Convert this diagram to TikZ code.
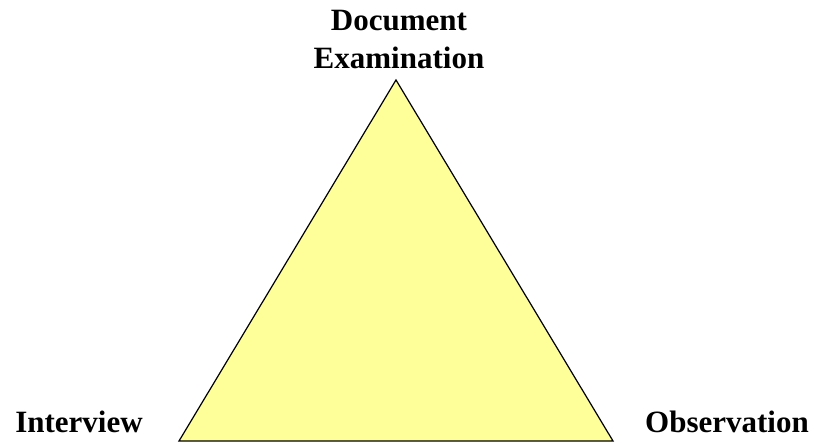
\documentclass[tikz,border=0pt]{standalone}
\usepackage{fontspec}
\setmainfont{Liberation Serif}
\usepackage{xcolor}
\definecolor{triyellow}{HTML}{FFFF99}
\usetikzlibrary{positioning}

\begin{document}
\begin{tikzpicture}[x=1pt, y=1pt,
  every node/.style={font=\fontsize{31}{38}\selectfont\bfseries, inner sep=0pt},
  cornerlabel/.style={anchor=base},
  topleg/.style={align=center, anchor=north}
]
  \useasboundingbox (0,0) rectangle (815,443);

  % Triangle corners
  \coordinate (apex) at (396,363);
  \coordinate (left) at (179,2);
  \coordinate (right) at (613,2);
  \filldraw[fill=triyellow, draw=black, line width=1.2pt, line join=miter]
    (apex) -- (left) -- (right) -- cycle;

  % Labels
  \node[topleg] (doc) at (399,433) {Document\\Examination};
  \node[cornerlabel] (interview) at (79,10) {Interview};
  \node[cornerlabel] (observation) at (727,10) {Observation};
\end{tikzpicture}
\end{document}
